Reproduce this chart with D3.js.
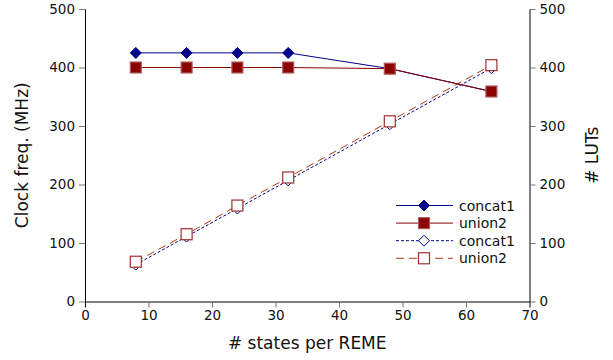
<!DOCTYPE html>
<html><head><meta charset="utf-8">
<script src="https://cdn.jsdelivr.net/npm/d3@7"></script>
<style>body{margin:0;background:#fff;} text{font-family:"DejaVu Sans",sans-serif;}</style>
</head><body><svg id="c" width="613" height="360"></svg>
<script>
const states = [8, 16, 24, 32, 48, 64];
const clockConcat1 = [425, 425, 425, 425, 398, 359];
const clockUnion2 = [400, 400, 400, 400, 398, 359];
const lutsConcat1 = [63, 111, 159, 207, 303, 399];
const lutsUnion2 = [68, 115, 164, 212, 308, 404];
const xTicks = [0, 10, 20, 30, 40, 50, 60, 70];
const yTicks = [0, 100, 200, 300, 400, 500];
const legendLabels = ["concat1", "union2", "concat1", "union2"];

const svg = d3.select("#c");
const m = {l: 85, r: 529.5, t: 9, b: 301.5};
const x = d3.scaleLinear().domain([0, 70]).range([m.l, m.r]);
const yL = d3.scaleLinear().domain([0, 500]).range([m.b, m.t]);
const yR = d3.scaleLinear().domain([0, 500]).range([m.b, m.t]);

function styleAxis(g){
  g.select(".domain").attr("stroke","#000").attr("stroke-width",1);
  g.selectAll(".tick line").attr("stroke","#777").attr("stroke-width",1);
  g.selectAll(".tick text").attr("fill","#111").style("font-size","13.5px").style("font-family","DejaVu Sans");
}
const gx = svg.append("g").attr("transform",`translate(0,${m.b})`)
  .call(d3.axisBottom(x).tickValues(xTicks).tickSize(6).tickSizeOuter(0).tickPadding(3));
styleAxis(gx);
gx.selectAll(".tick").filter(d=>d===0||d===70).select("line").attr("stroke","#000");
const gy = svg.append("g").attr("transform",`translate(${m.l},0)`)
  .call(d3.axisLeft(yL).tickValues(yTicks).tickSize(6).tickSizeOuter(0).tickPadding(4));
styleAxis(gy);
const gr = svg.append("g").attr("transform",`translate(${m.r},0)`)
  .call(d3.axisRight(yR).tickValues(yTicks).tickSize(6).tickSizeOuter(0).tickPadding(4));
styleAxis(gr);

svg.append("text").attr("x",(m.l+m.r)/2).attr("y",349).attr("text-anchor","middle")
  .style("font-size","17px").attr("fill","#111").text("# states per REME");
svg.append("text").attr("transform",`translate(28,${(m.t+m.b)/2}) rotate(-90)`).attr("text-anchor","middle")
  .style("font-size","17px").attr("fill","#111").text("Clock freq. (MHz)");
svg.append("text").attr("transform",`translate(598,${(m.t+m.b)/2}) rotate(-90)`).attr("text-anchor","middle")
  .style("font-size","17px").attr("fill","#111").text("# LUTs");

const blue = "#00008b", red = "#8b0000", redDash = "#b03a10";
const series = [
  {vals: clockConcat1, y: yL, stroke: blue, dash: null, marker: "diamond", fill: blue, mstroke: blue},
  {vals: clockUnion2, y: yL, stroke: red, dash: null, marker: "square", fill: red, mstroke: "#b06060"},
  {vals: lutsConcat1, y: yR, stroke: blue, dash: "3,2", marker: "diamond", fill: "#fff", mstroke: blue},
  {vals: lutsUnion2, y: yR, stroke: redDash, dash: "8,5", marker: "square", fill: "#fff", mstroke: "#a03030"},
];
const drawOrder = [2, 3, 0, 1];
function marker(g, type, cx, cy, fill, stroke){
  if(type==="diamond"){
    g.append("path").attr("d",`M${cx},${cy-5.5}L${cx+5.5},${cy}L${cx},${cy+5.5}L${cx-5.5},${cy}Z`)
      .attr("fill",fill).attr("stroke",stroke).attr("stroke-width",1);
  } else {
    g.append("rect").attr("x",cx-5.5).attr("y",cy-5.5).attr("width",11).attr("height",11)
      .attr("fill",fill).attr("stroke",stroke).attr("stroke-width",1.2);
  }
}
drawOrder.forEach(i=>{
  const s = series[i];
  const line = d3.line().x((d,j)=>x(states[j])).y(d=>s.y(d));
  svg.append("path").attr("d",line(s.vals)).attr("fill","none").attr("stroke",s.stroke)
    .attr("stroke-width",1).attr("stroke-dasharray",s.dash);
  const g = svg.append("g");
  s.vals.forEach((v,j)=>marker(g, s.marker, x(states[j]), s.y(v), s.fill, s.mstroke));
});

// legend
const lg = svg.append("g");
legendLabels.forEach((lab,i)=>{
  const s = series[i];
  const yy = 205.5 + i*17.6;
  lg.append("line").attr("x1",396).attr("x2",453).attr("y1",yy).attr("y2",yy)
    .attr("stroke",s.stroke).attr("stroke-width",1).attr("stroke-dasharray",s.dash);
  marker(lg, s.marker, 424, yy, s.fill, s.mstroke);
  lg.append("text").attr("x",459).attr("y",yy+5).style("font-size","14px").attr("fill","#111").text(lab);
});
</script></body></html>
